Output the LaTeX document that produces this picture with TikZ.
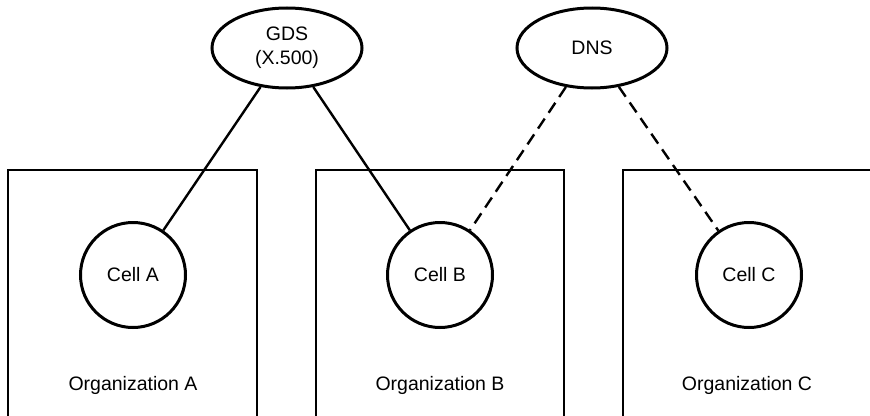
\documentclass[tikz,border=0pt]{standalone}
\usepackage{fontspec}
\setmainfont{Liberation Sans}
\usetikzlibrary{shapes.geometric}
\begin{document}
\begin{tikzpicture}[x=1pt,y=-1pt,
  every node/.style={font=\fontsize{19.5}{24}\selectfont, inner sep=0pt},
  dirbox/.style={draw, ellipse, line width=3pt, minimum width=150pt, minimum height=80pt, align=center},
  cellnode/.style={draw, circle, line width=3pt, minimum size=105pt},
  orgframe/.style={line width=2.5pt},
  link/.style={line width=2.4pt},
  dnslink/.style={line width=2.4pt, dash pattern=on 12pt off 7pt}]
  \useasboundingbox (0,0) rectangle (870,415);

  % organisation frames, open at the bottom
  \draw[orgframe] (8,420) -- (8,170) -- (257,170) -- (257,420);
  \draw[orgframe] (316,420) -- (316,170) -- (564,170) -- (564,420);
  \draw[orgframe] (623,420) -- (623,170) -- (875,170);

  % directory services
  \node[dirbox] (gds) at (287,48) {GDS\\(X.500)};
  \node[dirbox] (dns) at (592,48) {DNS};

  % cells
  \node[cellnode] (ca) at (133,275) {Cell A};
  \node[cellnode] (cb) at (440,275) {Cell B};
  \node[cellnode] (cc) at (749,275) {Cell C};

  % organisation labels
  \node (oa) at (133,385) {Organization A};
  \node (ob) at (440,385) {Organization B};
  \node (oc) at (747,385) {Organization C};

  % name service links
  \draw[link] (gds) -- (ca);
  \draw[link] (gds) -- (cb);
  \draw[dnslink] (dns) -- (cb);
  \draw[dnslink] (dns) -- (cc);
\end{tikzpicture}
\end{document}
